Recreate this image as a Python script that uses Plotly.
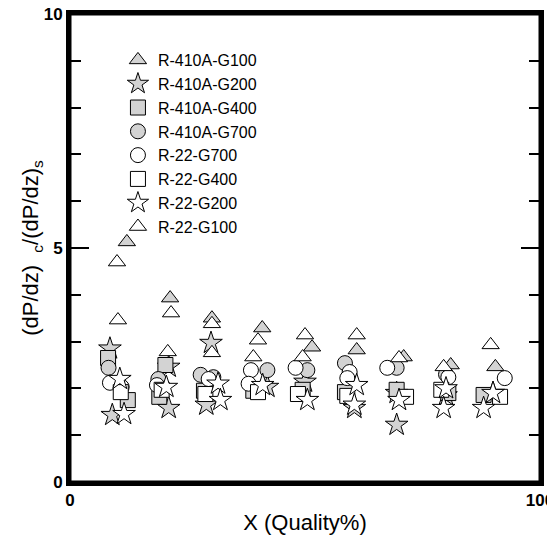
import plotly.graph_objects as go

# Data (X = quality %, Y = ratio)
r410_g100_x = [12.1, 21.3, 30.2, 40.9, 51.5, 61.0, 71.0, 81.0, 90.5]
r410_g100_y = [5.13, 3.93, 3.50, 3.29, 2.88, 2.82, 2.67, 2.50, 2.46]

r410_g200_x = [8.5, 9.0, 21.0, 21.0, 30.0, 29.0, 42.0, 50.0, 60.5, 69.5, 69.5, 80.0, 90.0]
r410_g200_y = [2.85, 1.43, 2.46, 1.58, 2.97, 1.65, 2.03, 2.14, 1.58, 1.90, 1.22, 1.85, 1.90]

r410_g400_x = [8.1, 12.3, 20.3, 19.0, 28.5, 39.0, 49.5, 58.5, 69.5, 80.5, 88.0]
r410_g400_y = [2.65, 1.75, 2.50, 1.82, 1.95, 1.95, 1.97, 1.92, 1.97, 1.90, 1.86]

r410_g700_x = [8.2, 18.8, 27.8, 30.5, 42.0, 50.5, 58.5, 69.5, 80.0]
r410_g700_y = [2.44, 2.20, 2.29, 2.24, 2.39, 2.39, 2.54, 2.44, 2.30]

r22_g700_x = [8.5, 11.0, 18.5, 29.5, 38.5, 38.0, 48.0, 59.5, 59.0, 67.5, 80.5, 92.5]
r22_g700_y = [2.12, 2.03, 2.07, 2.20, 2.39, 2.10, 2.44, 2.35, 2.22, 2.44, 2.24, 2.22]

r22_g400_x = [10.8, 19.5, 28.8, 40.0, 48.5, 59.0, 71.5, 79.0, 91.5]
r22_g400_y = [1.92, 1.97, 1.88, 1.92, 1.88, 1.84, 1.82, 1.97, 1.82]

r22_g200_x = [10.6, 11.5, 20.5, 31.5, 32.0, 41.0, 50.5, 61.0, 60.5, 70.0, 80.0, 79.5, 90.0, 88.0]
r22_g200_y = [2.20, 1.45, 2.03, 2.10, 1.75, 2.07, 1.75, 2.07, 1.65, 1.75, 2.00, 1.58, 1.90, 1.58]

r22_g100_x = [10.0, 10.2, 21.5, 20.8, 30.2, 30.2, 40.0, 39.0, 50.0, 49.5, 61.0, 70.0, 79.5, 89.5]
r22_g100_y = [4.70, 3.46, 3.61, 2.78, 3.38, 2.76, 3.03, 2.67, 3.14, 2.67, 3.14, 2.65, 2.46, 2.93]

x_tick_vals = [0, 100]
x_tick_text = ["0", "100"]
y_tick_vals = [0, 5, 10]
y_tick_text = ["0", "5", "10"]

GRAY = "#d3d3d3"
WHITE = "#ffffff"

series = [
    # name, x, y, symbol, fill, legendrank
    ("R-410A-G100", r410_g100_x, r410_g100_y, "triangle-up", GRAY, 1),
    ("R-410A-G200", r410_g200_x, r410_g200_y, "star", GRAY, 2),
    ("R-410A-G400", r410_g400_x, r410_g400_y, "square", GRAY, 3),
    ("R-410A-G700", r410_g700_x, r410_g700_y, "circle", GRAY, 4),
    ("R-22-G700", r22_g700_x, r22_g700_y, "circle", WHITE, 5),
    ("R-22-G400", r22_g400_x, r22_g400_y, "square", WHITE, 6),
    ("R-22-G200", r22_g200_x, r22_g200_y, "star", WHITE, 7),
    ("R-22-G100", r22_g100_x, r22_g100_y, "triangle-up", WHITE, 8),
]

fig = go.Figure()
for name, xs, ys, sym, fill, rank in series:
    size = 17 if sym == "star" else 15
    fig.add_trace(go.Scatter(
        x=xs, y=ys, mode="markers", name=name, legendrank=rank,
        marker=dict(symbol=sym, size=size, color=fill,
                    line=dict(color="black", width=1)),
    ))

# extra inner stroke to thicken the frame
fig.add_shape(type="rect", xref="paper", yref="paper", x0=0, y0=0, x1=1, y1=1,
              line=dict(color="black", width=3))

# page body has an 8px default margin: figure is sized to the visible area
fig.update_layout(
    width=547, height=536,
    margin=dict(l=62, r=15, t=6, b=62),
    paper_bgcolor="white", plot_bgcolor="white",
    font=dict(family="Liberation Sans, Arial, sans-serif", color="black"),
    showlegend=True,
    legend=dict(x=0.102, y=0.938, xanchor="left", yanchor="top",
                bgcolor="rgba(0,0,0,0)", borderwidth=0,
                font=dict(size=16, color="black"),
                itemsizing="trace"),
)

fig.update_xaxes(
    range=[0, 100], showgrid=False, zeroline=False, automargin=False,
    showline=True, linewidth=4, linecolor="black", mirror=True,
    tickvals=x_tick_vals, ticktext=["<b>%s</b>" % t for t in x_tick_text], ticks="",
    ticklabeloverflow="allow",
    tickfont=dict(size=17),
    title=dict(text="X (Quality%)", font=dict(size=22), standoff=6),
)
fig.update_yaxes(
    range=[0, 10], showgrid=False, zeroline=False, automargin=False,
    showline=True, linewidth=4, linecolor="black", mirror="ticks",
    tickvals=y_tick_vals, ticktext=["<b>%s</b>" % t for t in y_tick_text],
    ticklabeloverflow="allow",
    ticks="inside", ticklen=19, tickwidth=2, tickcolor="black",
    minor=dict(dtick=1, ticks="inside", ticklen=11, tickwidth=2, tickcolor="black"),
    tickfont=dict(size=17),
    title=dict(text="(dP/dz)\u00a0\u00a0<sub>c</sub>/(dP/dz)<sub>s</sub>", font=dict(size=22), standoff=0),
)

fig.write_html("out.html")
